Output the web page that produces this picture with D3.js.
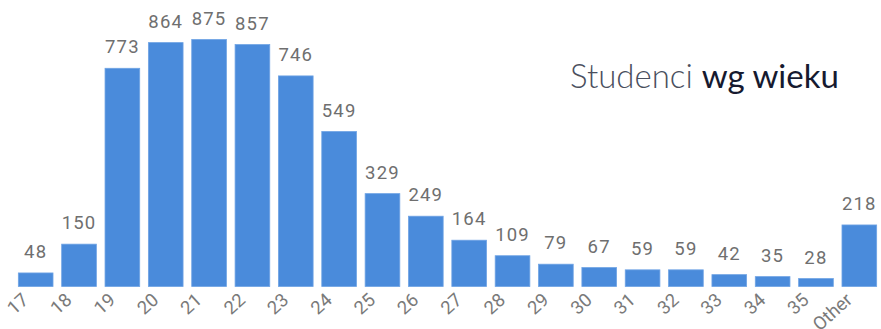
<!DOCTYPE html>
<html>
<head>
<meta charset="utf-8">
<script src="https://cdn.jsdelivr.net/npm/d3@7"></script>
<style>
  html, body { margin: 0; padding: 0; background: #fff; }
  svg { display: block; }
</style>
</head>
<body>
<svg id="chart" width="881" height="329"></svg>
<script>
const categories = ["17","18","19","20","21","22","23","24","25","26","27","28","29","30","31","32","33","34","35","Other"];
const values = [48,150,773,864,875,857,746,549,329,249,164,109,79,67,59,59,42,35,28,218];
const titleLight = "Studenci";
const titleBold = "wg wieku";

const W = 881, H = 329;
const baseY = 286.5;
const svg = d3.select("#chart");

const x = d3.scaleBand()
  .domain(categories)
  .range([14, 881])
  .paddingInner(0.2)
  .paddingOuter(0.1);

const y = d3.scaleLinear()
  .domain([0, 875])
  .range([baseY, 39.5]);

const data = categories.map((c, i) => ({ c, v: values[i] }));

svg.append("g").selectAll("rect")
  .data(data)
  .join("rect")
  .attr("x", d => x(d.c))
  .attr("y", d => y(d.v))
  .attr("width", x.bandwidth())
  .attr("height", d => baseY - y(d.v))
  .attr("fill", "#4a8bdb")
  .attr("stroke", "#6fa3e4")
  .attr("stroke-width", 0.8);

svg.append("g").selectAll("text")
  .data(data)
  .join("text")
  .attr("x", d => x(d.c) + x.bandwidth() / 2)
  .attr("y", d => y(d.v) - 15)
  .attr("text-anchor", "middle")
  .attr("font-family", "Roboto, 'DejaVu Sans', sans-serif")
  .attr("font-size", 18.5)
  .attr("letter-spacing", 1.2)
  .attr("fill", "#6f6f6f")
  .text(d => d.v);

const xAxis = d3.axisBottom(x).tickSize(0).tickPadding(0);
const gx = svg.append("g")
  .attr("transform", `translate(0,${baseY})`)
  .call(xAxis);
gx.select(".domain").remove();
gx.selectAll(".tick text")
  .attr("font-family", "Roboto, 'DejaVu Sans', sans-serif")
  .attr("font-size", 18.5)
  .attr("font-weight", 400)
  .attr("fill", "#7a7a7a")
  .attr("text-anchor", "end")
  .attr("dy", 0)
  .attr("transform", "translate(-6,15) rotate(-42)");

const title = svg.append("text")
  .attr("x", 570)
  .attr("y", 88)
  .attr("font-family", "Lato, 'Open Sans', sans-serif")
  .attr("font-size", 33);
title.append("tspan")
  .attr("font-weight", 300)
  .attr("fill", "#4a4f5e")
  .text(titleLight + " ");
title.append("tspan")
  .attr("font-weight", 400)
  .attr("fill", "#161a30")
  .text(titleBold);
</script>
</body>
</html>
